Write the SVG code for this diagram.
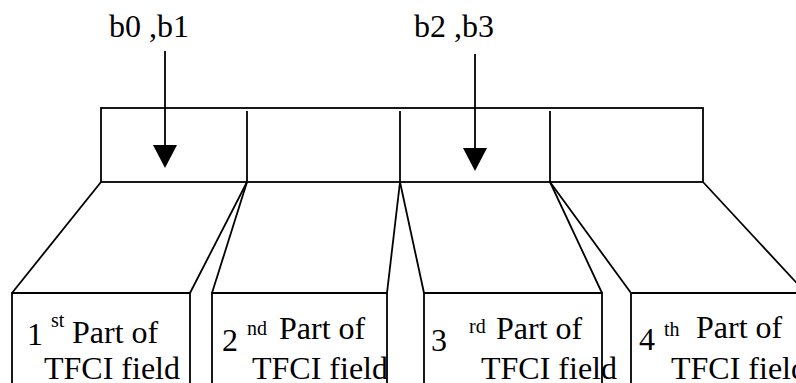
<svg xmlns="http://www.w3.org/2000/svg" width="796" height="383" viewBox="0 0 796 383">
<style>
.ln{fill:none;stroke:#000;stroke-width:1.8;stroke-linejoin:miter}
.s{font-size:20px}
</style>
<rect width="796" height="383" fill="#fff"/>
<g id="tfci-field">
<rect class="ln" x="101" y="108" width="602" height="74"/>
<line class="ln" x1="247" y1="111" x2="247" y2="182"/>
<line class="ln" x1="400" y1="111" x2="400" y2="182"/>
<line class="ln" x1="550" y1="111" x2="550" y2="182"/>
</g>
<g font-family="Liberation Serif, Times New Roman, serif" font-size="32" fill="#000">
<g id="label-b0b1"><text x="109" y="37">b0 ,b1</text></g>
<g id="label-b2b3"><text x="414" y="37">b2 ,b3</text></g>
<g id="part1">
<path class="ln" d="M12,383 V293 H190 V383"/>
<text><tspan x="27" y="345">1</tspan><tspan class="s" x="51" y="327">st</tspan><tspan x="72" y="343">Part of</tspan><tspan x="44" y="379">TFCI field</tspan></text>
</g>
<g id="part2">
<path class="ln" d="M212,383 V293 H387 V383"/>
<text><tspan x="222" y="351">2</tspan><tspan class="s" x="247" y="335">nd</tspan><tspan x="279" y="339">Part of</tspan><tspan x="252" y="379">TFCI field</tspan></text>
</g>
<g id="part3">
<path class="ln" d="M424,383 V293 H602 V383"/>
<text><tspan x="431" y="351">3</tspan><tspan class="s" x="469" y="333">rd</tspan><tspan x="496" y="339">Part of</tspan><tspan x="481" y="379">TFCI field</tspan></text>
</g>
<g id="part4">
<path class="ln" d="M631,383 V293 H810"/>
<text><tspan x="639" y="350">4</tspan><tspan class="s" x="664" y="336">th</tspan><tspan x="696" y="338">Part of</tspan><tspan x="671" y="379">TFCI field</tspan></text>
</g>
</g>
<g id="connectors">
<line class="ln" x1="165" y1="51" x2="165" y2="146"/>
<polygon points="153,145 177,145 165,168" fill="#000"/>
<line class="ln" x1="475" y1="54" x2="475" y2="149"/>
<polygon points="463,148 487,148 475,171" fill="#000"/>
<line class="ln" x1="101" y1="182" x2="12" y2="293"/>
<line class="ln" x1="247" y1="182" x2="190" y2="293"/>
<line class="ln" x1="247" y1="182" x2="212" y2="293"/>
<line class="ln" x1="400" y1="182" x2="387" y2="293"/>
<line class="ln" x1="400" y1="182" x2="424" y2="293"/>
<line class="ln" x1="550" y1="182" x2="602" y2="293"/>
<line class="ln" x1="550" y1="182" x2="631" y2="293"/>
<line class="ln" x1="703" y1="182" x2="806" y2="293"/>
</g>
</svg>
